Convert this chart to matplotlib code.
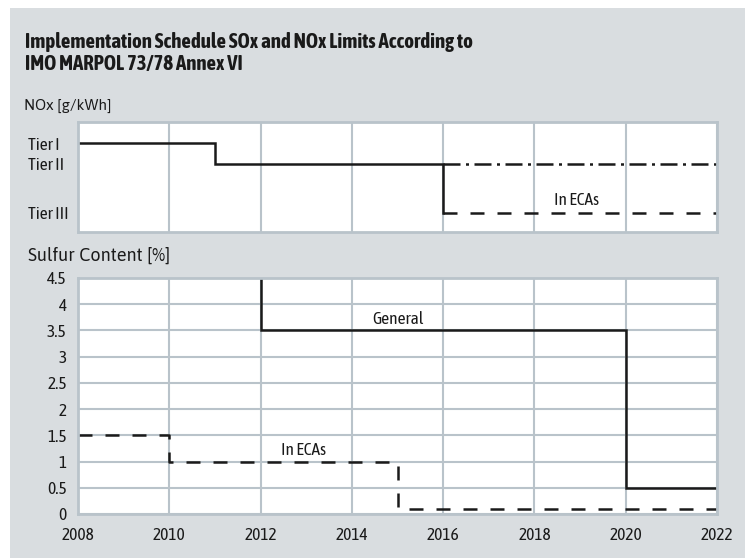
import matplotlib
matplotlib.use("Agg")
import matplotlib.pyplot as plt
from matplotlib.patches import Rectangle

plt.rcParams['font.family'] = ['Asap Condensed', 'DejaVu Sans']
wide = ['Asap', 'Asap Condensed', 'DejaVu Sans']

# NOx tiers (plot position of each tier level, not to scale)
tier_names = ["Tier I", "Tier II", "Tier III"]
tier_levels = [8.9, 6.8, 1.9]

nox_years = [2008, 2011, 2011, 2016, 2016]
nox_vals = [8.9, 8.9, 6.8, 6.8, 1.9]
nox_gen_years = [2016, 2022]
nox_gen_vals = [6.8, 6.8]
nox_eca_years = [2016, 2022]
nox_eca_vals = [1.9, 1.9]

# sulfur content [%]
sox_gen_years = [2012, 2012, 2020, 2020, 2022]
sox_gen_vals = [4.5, 3.5, 3.5, 0.5, 0.5]
sox_eca_years = [2008, 2010, 2010, 2015, 2015, 2022]
sox_eca_vals = [1.5, 1.5, 1.0, 1.0, 0.1, 0.1]

year_ticks = [2008, 2010, 2012, 2014, 2016, 2018, 2020, 2022]
sulfur_ticks = [0, 0.5, 1, 1.5, 2, 2.5, 3, 3.5, 4, 4.5]
sulfur_labels = ["0", "0.5", "1", "1.5", "2", "2.5", "3", "3.5", "4", "4.5"]

bg = "#d9dde0"
grid = "#b9c3ca"
ink = "#1a1a1a"
lw = 1.8

fig = plt.figure(figsize=(7.45, 5.58), dpi=100)
fig.patch.set_facecolor("white")
fig.patches.append(Rectangle((10 / 745, 0), 1, 1 - 8 / 558, transform=fig.transFigure,
                             facecolor=bg, edgecolor="none", zorder=-10))

fig.text(25 / 745, 1 - 53 / 558,
         "Implementation Schedule SOx and NOx Limits According to\nIMO MARPOL 73/78 Annex VI",
         fontsize=15, fontweight="bold", color=ink, va="center", ha="left", linespacing=1.15)
fig.text(24 / 745, 1 - 106 / 558, "NOx [g/kWh]", fontsize=11, color=ink, va="center", family=wide)
fig.text(28 / 745, 1 - 256 / 558, "Sulfur Content [%]", fontsize=13, color=ink, va="center", family=wide)


def style(ax):
    ax.set_facecolor("white")
    for s in ax.spines.values():
        s.set_color(grid)
        s.set_linewidth(2)
    ax.set_xlim(2008, 2022)
    ax.set_xticks(year_ticks)
    ax.tick_params(length=0, colors=ink)
    ax.set_axisbelow(True)


# top: NOx
ax1 = fig.add_axes([78 / 745, 1 - 232 / 558, 639 / 745, 110 / 558])
style(ax1)
ax1.set_ylim(0, 11)
ax1.set_yticks(tier_levels)
ax1.set_yticklabels(tier_names, fontsize=12.5)
for lab in ax1.get_yticklabels():
    lab.set_horizontalalignment("left")
    lab.set_x(-0.070)
ax1.set_xticklabels([])
ax1.grid(axis="x", color=grid, linewidth=1.5)
ax1.plot(nox_years, nox_vals, color=ink, lw=lw, solid_joinstyle="miter")
ax1.plot(nox_gen_years, nox_gen_vals, color=ink, lw=lw, dashes=(6.8, 2.2, 1.2, 2.2))
ax1.plot(nox_eca_years, nox_eca_vals, color=ink, lw=lw, dashes=(5.6, 5.2))
ax1.text(2018.93, 3.1, "In ECAs", fontsize=12.5, color=ink, ha="center", va="center")

# bottom: sulfur
ax2 = fig.add_axes([78 / 745, 1 - 514 / 558, 639 / 745, 236 / 558])
style(ax2)
ax2.set_ylim(0, 4.5)
ax2.set_yticks(sulfur_ticks)
ax2.set_yticklabels(sulfur_labels, fontsize=12.5)
ax2.set_xticklabels([str(y) for y in year_ticks], fontsize=12.5)
ax2.tick_params(axis="x", pad=9)
ax2.tick_params(axis="y", pad=8)
ax2.grid(True, color=grid, linewidth=1.5)
ax2.plot(sox_gen_years, sox_gen_vals, color=ink, lw=lw, solid_joinstyle="miter")
ax2.plot(sox_eca_years, sox_eca_vals, color=ink, lw=lw, dashes=(5.6, 5.2))
ax2.text(2015, 3.7, "General", fontsize=12.5, color=ink, ha="center", va="center")
ax2.text(2012.95, 1.21, "In ECAs", fontsize=12.5, color=ink, ha="center", va="center")

fig.savefig("out.png", dpi=100, facecolor=fig.get_facecolor())
